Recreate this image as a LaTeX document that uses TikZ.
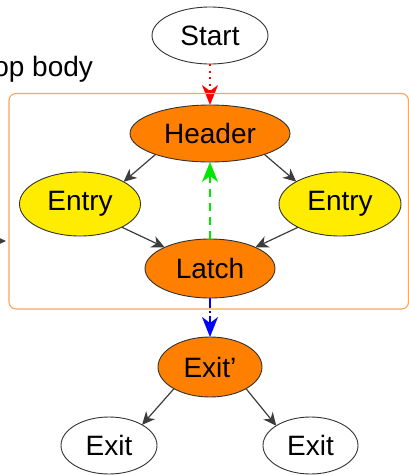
\documentclass[tikz,border=0pt]{standalone}
\usepackage{fontspec}
\setmainfont{Liberation Sans}
\usetikzlibrary{shapes.geometric,arrows.meta}
\definecolor{nodeorange}{RGB}{255,128,0}
\definecolor{nodeyellow}{RGB}{255,236,0}
\definecolor{boxorange}{RGB}{250,165,90}
\definecolor{edgegray}{RGB}{60,60,60}
\definecolor{bordergray}{RGB}{50,50,50}
\definecolor{loopgreen}{RGB}{0,230,0}
\begin{document}
\begin{tikzpicture}[x=1pt,y=-1pt,
  every node/.style={font=\fontsize{28}{32}\selectfont},
  blob/.style={ellipse,draw=bordergray,line width=0.9pt,inner sep=0pt,outer sep=0pt},
  edge/.style={draw=edgegray,line width=1.2pt,-{Stealth[length=13pt,width=12pt,inset=4pt]}},
  special/.style={line width=2pt,-{Stealth[length=20pt,width=16pt,inset=6pt]}}
]
\useasboundingbox (0,0) rectangle (409,475);

% nodes
\node[blob,fill=white,minimum width=116pt,minimum height=57pt] (start) at (210,35.5) {Start};
\node[blob,fill=nodeorange,minimum width=160pt,minimum height=57pt] (hdr) at (210,133.5) {Header};
\node[blob,fill=nodeyellow,minimum width=121pt,minimum height=64pt] (el) at (80,204) {Entry};
\node[blob,fill=nodeyellow,minimum width=122pt,minimum height=64pt] (er) at (340,204) {Entry};
\node[blob,fill=nodeorange,minimum width=130pt,minimum height=59pt] (latch) at (210,268.5) {Latch};
\node[blob,fill=nodeorange,minimum width=104pt,minimum height=60pt] (exitp) at (210,367) {Exit’};
\node[blob,fill=white,minimum width=96pt,minimum height=57pt] (exl) at (109,445.5) {Exit};
\node[blob,fill=white,minimum width=95pt,minimum height=57pt] (exr) at (310.5,445.5) {Exit};

\node[anchor=base west,inner sep=0pt] (lbl) at (-38,76.5) {Loop body};

% edges
\draw[edge] (hdr.201) -- (el.27);
\draw[edge] (hdr.339) -- (er.153);
\draw[edge] (el.331) -- (latch.155);
\draw[edge] (er.209) -- (latch.25);
\draw[edge] (exitp.211) -- (exl.32);
\draw[edge] (exitp.329) -- (exr.150);

\draw[special,red,dash pattern=on 2pt off 4.5pt] (start.south) -- (hdr.north);
\draw[special,loopgreen,dash pattern=on 8pt off 6pt] (latch.north) -- (hdr.south);
\draw[special,blue,dash pattern=on 10pt off 3pt on 2pt off 3pt] (latch.south) -- (exitp.north);

% incoming edge from the left, clipped by the page
\coordinate (lin) at (-25,241);
\coordinate (lout) at (6,241);
\draw[edge] (lin) -- (lout);

% loop region
\draw[boxorange,line width=1.1pt,rounded corners=7pt] (9,93.5) rectangle (408.5,309);
\end{tikzpicture}
\end{document}
